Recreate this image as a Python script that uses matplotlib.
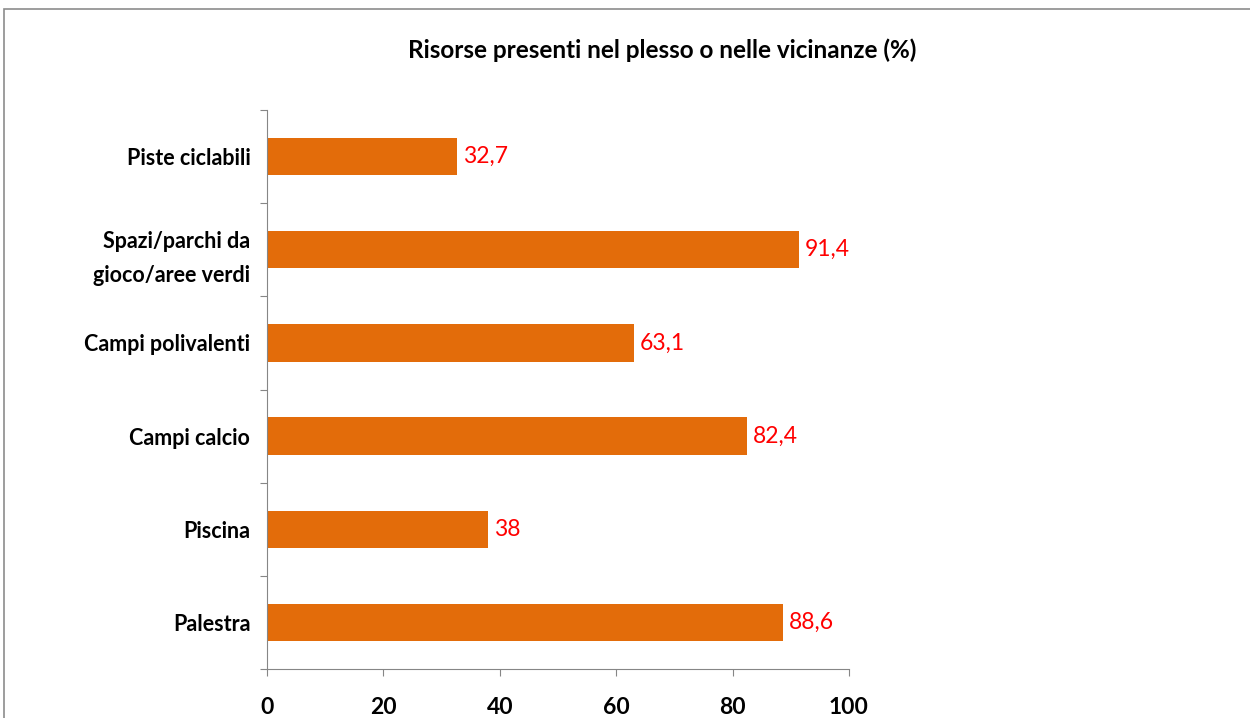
import matplotlib
matplotlib.use("Agg")
import matplotlib.pyplot as plt
from matplotlib.patches import Rectangle

plt.rcParams['font.family'] = ['Lato', 'DejaVu Sans']

# data (bottom to top)
categories = ["Palestra", "Piscina", "Campi calcio", "Campi polivalenti",
              "Spazi/parchi da\ngioco/aree verdi", "Piste ciclabili"]
values = [88.6, 38, 82.4, 63.1, 91.4, 32.7]
value_labels = ["88,6", "38", "82,4", "63,1", "91,4", "32,7"]
xticks = [0, 20, 40, 60, 80, 100]

fig = plt.figure(figsize=(12.5, 7.18), dpi=100)
# outer chart frame (top / left edges visible)
fig.patches.append(Rectangle((4 / 1250, -0.1), 1.2, (718 - 9) / 718 + 0.1,
                             transform=fig.transFigure, fill=False,
                             edgecolor="#8c8c8c", linewidth=1.2))

ax = fig.add_axes([267 / 1250, 49 / 718, 582 / 1250, 559 / 718])
pos = range(len(categories))
ax.barh([p + 0.5 for p in pos], values, height=0.4, color="#E36C0A")

for p, v, lab in zip(pos, values, value_labels):
    ax.text(v + 1.0, p + 0.5, lab, color="red", fontsize=16.5, va="center", ha="left")

ax.set_xlim(0, 100)
ax.set_ylim(0, len(categories))
ax.set_xticks(xticks)
ax.set_xticklabels([str(t) for t in xticks], fontsize=16.5, fontweight="bold")
ax.set_yticks(range(len(categories) + 1))
ax.set_yticklabels([])
ax.set_yticks([p + 0.5 for p in pos], minor=True)
ax.set_yticklabels(categories, minor=True, fontsize=15.5, fontweight="bold",
                   linespacing=1.75)
ax.tick_params(axis="y", which="minor", length=0, pad=12)
ax.tick_params(axis="y", which="major", length=5, color="#868686", direction="out")
ax.tick_params(axis="x", length=5, color="#868686", direction="out", pad=15)

for s in ["top", "right"]:
    ax.spines[s].set_visible(False)
for s in ["left", "bottom"]:
    ax.spines[s].set_color("#868686")

fig.text(662 / 1250, 1 - 50 / 718, "Risorse presenti nel plesso o nelle vicinanze (%)",
         ha="center", va="center", fontsize=17.5, fontweight="bold")

fig.savefig("out.png", dpi=100)
